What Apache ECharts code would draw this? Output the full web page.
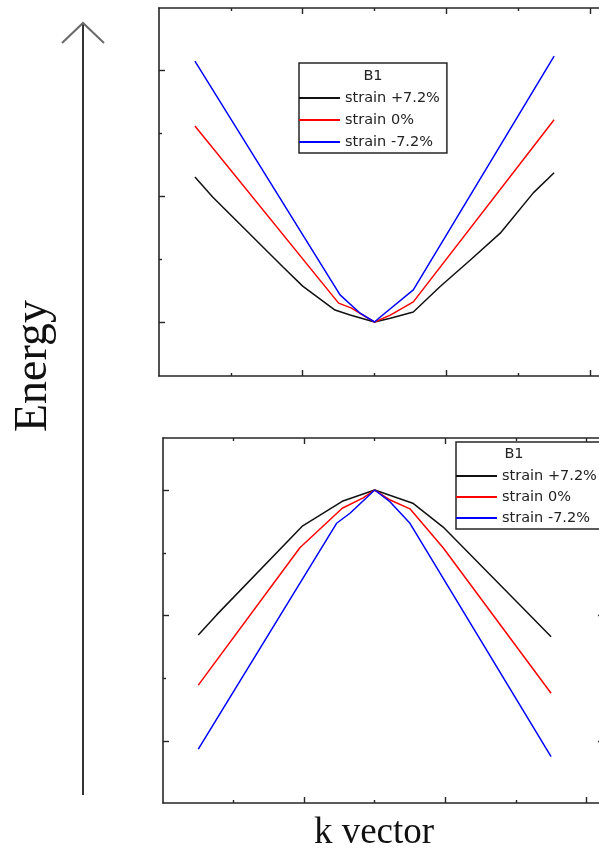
<!DOCTYPE html>
<html>
<head>
<meta charset="utf-8">
<title>B1 band dispersion under strain</title>
<script src="https://cdn.jsdelivr.net/npm/echarts@6/dist/echarts.min.js"></script>
<style>
  html, body { margin: 0; padding: 0; background: #fff; }
  #chart { width: 599px; height: 852px; }
</style>
</head>
<body>
<div id="chart"></div>
<script>
// Legend entries / series names
const strainNames = ['strain +7.2%', 'strain 0%', 'strain -7.2%'];
const strainColors = ['#111111', '#ff0000', '#0000ff'];
const legendTitle = 'B1';

// Conduction band (upper panel): [k, E] pairs, E relative to the band minimum
const cbPlus = [[0.5, 2.30], [0.75, 1.98], [1.73, 0.87], [2.0, 0.57], [2.45, 0.19], [2.66, 0.11], [3.0, 0.0],
                [3.22, 0.06], [3.54, 0.16], [3.91, 0.56], [4.33, 0.98], [4.75, 1.41], [5.21, 2.05], [5.5, 2.37]];
const cbZero = [[0.5, 3.11], [2.5, 0.30], [2.68, 0.22], [2.85, 0.10], [3.0, 0.0],
                [3.22, 0.11], [3.54, 0.32], [5.5, 3.21]];
const cbMinus = [[0.5, 4.14], [2.52, 0.43], [2.8, 0.14], [3.0, 0.0],
                 [3.08, 0.08], [3.54, 0.51], [5.5, 4.22]];

// Valence band (lower panel): [k, E] pairs, E relative to the band maximum
const vbPlus = [[0.5, -2.31], [0.76, -1.99], [1.98, -0.57], [2.54, -0.18], [3.0, 0.0],
                [3.54, -0.21], [3.97, -0.59], [5.1, -1.88], [5.5, -2.34]];
const vbZero = [[0.5, -3.11], [1.94, -0.92], [2.54, -0.29], [2.83, -0.13], [3.0, 0.0],
                [3.22, -0.16], [3.5, -0.30], [3.97, -0.92], [5.5, -3.24]];
const vbMinus = [[0.5, -4.13], [2.46, -0.53], [2.65, -0.37], [3.0, 0.0],
                 [3.22, -0.19], [3.5, -0.53], [5.5, -4.25]];

// Tick positions (major / minor) for the frame of each panel
const kMajorTicks = [2, 4, 6];
const kMinorTicks = [1, 3, 5];
const cbMajorTicks = [0, 2, 4];
const cbMinorTicks = [1, 3];
const vbMajorTicks = [0, -2, -4];
const vbMinorTicks = [-1, -3];

const frameColor = '#262626';

// Builds the four framed sides of a panel: each side gets a major-tick axis and a minor-tick axis.
function frameAxes(gridIndex, xRange, yRange, yMajor, yMinor) {
  const side = (pos, ticks, len, showLine, range) => ({
    type: 'value', gridIndex: gridIndex, position: pos,
    min: range[0], max: range[1],
    axisLine: { show: showLine, onZero: false, lineStyle: { color: frameColor, width: 1.6 } },
    axisTick: { show: true, inside: true, length: len, customValues: ticks,
                lineStyle: { color: frameColor, width: 1.4 } },
    axisLabel: { show: false },
    splitLine: { show: false }
  });
  return {
    x: [side('bottom', kMajorTicks, 6, true, xRange), side('bottom', kMinorTicks, 3, false, xRange),
        side('top', kMajorTicks, 6, true, xRange), side('top', kMinorTicks, 3, false, xRange)],
    y: [side('left', yMajor, 6, true, yRange), side('left', yMinor, 3, false, yRange),
        side('right', yMajor, 6, true, yRange), side('right', yMinor, 3, false, yRange)]
  };
}

const topAxes = frameAxes(0, [0, 6.25], [-0.857, 4.984], cbMajorTicks, cbMinorTicks);
const botAxes = frameAxes(1, [0, 6.25], [-4.988, 0.829], vbMajorTicks, vbMinorTicks);

function bandSeries(name, color, data, axisIndex) {
  return {
    type: 'line', name: name, data: data,
    xAxisIndex: axisIndex, yAxisIndex: axisIndex,
    showSymbol: false, symbol: 'none', smooth: false,
    lineStyle: { color: color, width: 1.5 },
    itemStyle: { color: color },
    animation: false, silent: true
  };
}

const cbSets = [cbPlus, cbZero, cbMinus];
const vbSets = [vbPlus, vbZero, vbMinus];
const series = [];
strainNames.forEach((n, i) => series.push(bandSeries(n, strainColors[i], cbSets[i], 0)));
strainNames.forEach((n, i) => series.push(bandSeries(n, strainColors[i], vbSets[i], 4)));

function legendBox(left, top, padding, gap) {
  return {
    data: strainNames, orient: 'vertical', left: left, top: top,
    padding: padding, itemGap: gap, itemWidth: 41, itemHeight: 2, icon: 'rect',
    borderColor: frameColor, borderWidth: 1.5, backgroundColor: '#ffffff',
    textStyle: { fontFamily: 'DejaVu Sans', fontSize: 14.5, lineHeight: 17, color: '#222' },
    selectedMode: false, z: 5
  };
}

const chart = echarts.init(document.getElementById('chart'), null, { renderer: 'canvas' });
chart.setOption({
  backgroundColor: '#ffffff',
  animation: false,
  grid: [
    // both panels run past the right edge of the page
    { left: 159, top: 8, width: 449, height: 368, outerBoundsMode: 'none', containLabel: false },
    { left: 163, top: 438, width: 441, height: 365, outerBoundsMode: 'none', containLabel: false }
  ],
  xAxis: topAxes.x.concat(botAxes.x),
  yAxis: topAxes.y.concat(botAxes.y),
  legend: [
    legendBox(299, 63, [26.5, 7, 2.5, 0], 5),
    legendBox(456, 442, [25.5, 4, 2.5, 0], 4)
  ],
  series: series,
  graphic: [
    // Energy arrow
    { type: 'line', shape: { x1: 83, y1: 795, x2: 83, y2: 24 },
      style: { stroke: '#333', lineWidth: 2 } },
    { type: 'polyline', shape: { points: [[62, 43], [83, 23], [104, 43]] },
      style: { stroke: '#6a6a6a', lineWidth: 2, fill: null } },
    { type: 'text', x: 34, y: 366, rotation: Math.PI / 2,
      style: { text: 'Energy', font: '46px "Liberation Serif"', fill: '#111',
               textAlign: 'center', textVerticalAlign: 'middle' } },
    { type: 'text', x: 374, y: 833,
      style: { text: 'k vector', font: '37px "Liberation Serif"', fill: '#111',
               textAlign: 'center', textVerticalAlign: 'middle' } },
    // Legend titles
    { type: 'text', x: 373, y: 76, z: 10,
      style: { text: legendTitle, font: '14.5px "DejaVu Sans"', fill: '#222',
               textAlign: 'center', textVerticalAlign: 'middle' } },
    { type: 'text', x: 514, y: 454, z: 10,
      style: { text: legendTitle, font: '14.5px "DejaVu Sans"', fill: '#222',
               textAlign: 'center', textVerticalAlign: 'middle' } }
  ]
});
</script>
</body>
</html>
